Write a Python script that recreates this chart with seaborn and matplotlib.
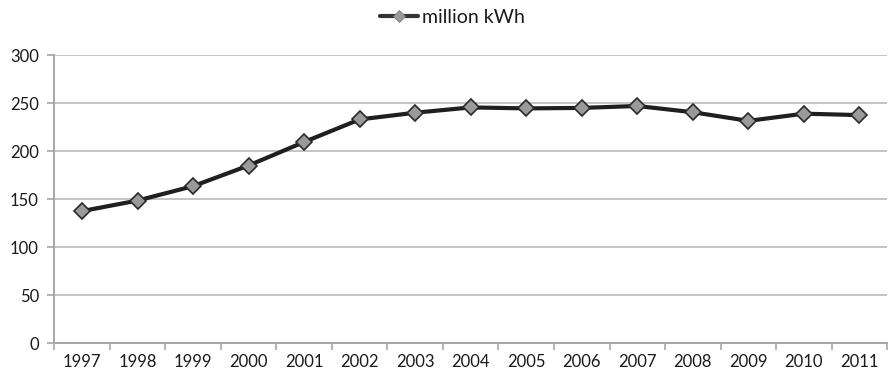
import matplotlib
matplotlib.use("Agg")
import matplotlib.pyplot as plt
from matplotlib.ticker import FixedLocator
import seaborn as sns
import pandas as pd

years = [1997, 1998, 1999, 2000, 2001, 2002, 2003, 2004, 2005, 2006, 2007, 2008, 2009, 2010, 2011]
million_kwh = [137.5, 148.5, 163.5, 185, 209.5, 233, 240, 245.5, 244.5, 245, 247, 240.5, 231.5, 239, 237.5]
series_name = "million kWh"
y_ticks = [0, 50, 100, 150, 200, 250, 300]

df = pd.DataFrame({"year": years, "value": million_kwh, "series": series_name})

sns.set_theme(style="white")
plt.rcParams["font.family"] = ["Lato", "DejaVu Sans"]

fig = plt.figure(figsize=(8.89, 3.8), dpi=100)
ax = fig.add_axes([0.061, 0.097, 0.937, 0.758])

sns.lineplot(
    data=df, x="year", y="value", hue="series", palette=["#1f1f1f"],
    marker="D", markersize=8, markerfacecolor="#9a9a9a", markeredgecolor="#2a2a2a",
    markeredgewidth=1.2, linewidth=3, ax=ax,
)

ax.set_xlim(years[0] - 0.5, years[-1] + 0.5)
ax.set_ylim(0, 300)
ax.set_yticks(y_ticks)
ax.set_xticks(years)
ax.set_xticklabels([str(y) for y in years])
ax.xaxis.set_minor_locator(FixedLocator([y + 0.5 for y in [years[0] - 1] + years]))
ax.set_xlabel("")
ax.set_ylabel("")

ax.grid(axis="y", color="#c4c4c4", linewidth=1.4)
ax.set_axisbelow(True)
for side in ["top", "right"]:
    ax.spines[side].set_visible(False)
for side in ["left", "bottom"]:
    ax.spines[side].set_color("#a6a6a6")
    ax.spines[side].set_linewidth(1.4)

ax.tick_params(axis="y", which="major", length=5, width=1.2, color="#a6a6a6",
               labelsize=12, labelcolor="#1a1a1a", pad=6, left=True)
ax.tick_params(axis="x", which="major", length=0, labelsize=12, labelcolor="#1a1a1a", pad=8)
ax.tick_params(axis="x", which="minor", length=5, width=1.2, color="#a6a6a6", bottom=True)

leg = ax.legend(loc="center", bbox_to_anchor=(0.478, 1.13), frameon=False,
                fontsize=14, handlelength=2.0, handletextpad=0.2, borderaxespad=0)
for h in leg.legend_handles:
    h.set_markersize(6)
    h.set_markeredgewidth(0.6)
    h.set_markeredgecolor("#7a7a7a")
    h.set_color("#333333")
for t in leg.get_texts():
    t.set_color("#1a1a1a")

fig.savefig("out.png", dpi=100)
